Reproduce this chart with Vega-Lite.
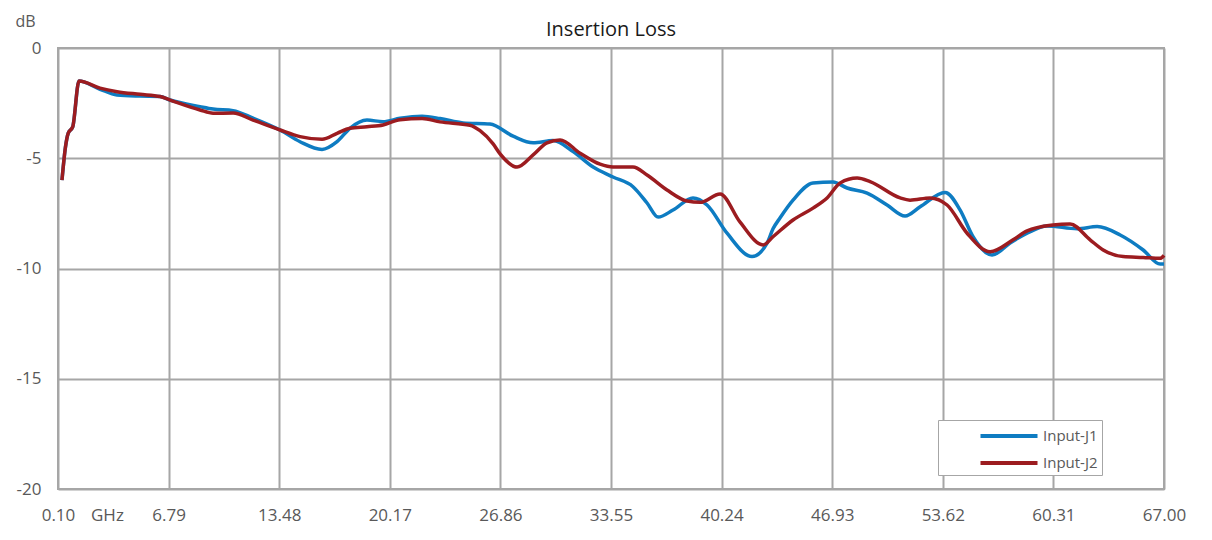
{
  "$schema": "https://vega.github.io/schema/vega-lite/v6.json",
  "width": 1106,
  "height": 441,
  "autosize": {"type": "none"},
  "padding": {"left": 58, "top": 48, "right": 48, "bottom": 51},
  "background": "white",
  "title": {"text": "Insertion Loss", "fontSize": 20, "font": "Open Sans", "fontWeight": "normal", "color": "#1a1a1a", "offset": 9, "dy": 36, "anchor": "middle", "frame": "group"},
  "config": {"view": {"stroke": "#a6a6a6", "strokeWidth": 2}, "font": "Open Sans"},
  "datasets": {
    "j1": [
      {"f": 0.34, "v": -5.99}, {"f": 0.55, "v": -4.5}, {"f": 0.72, "v": -3.86}, {"f": 0.99, "v": -3.58}, {"f": 1.37, "v": -1.5},
      {"f": 2.64, "v": -1.87}, {"f": 3.67, "v": -2.13}, {"f": 5.06, "v": -2.18}, {"f": 6.27, "v": -2.2}, {"f": 6.88, "v": -2.36},
      {"f": 8.69, "v": -2.66}, {"f": 9.48, "v": -2.77}, {"f": 10.69, "v": -2.84}, {"f": 11.9, "v": -3.18}, {"f": 13.53, "v": -3.72},
      {"f": 14.74, "v": -4.25}, {"f": 16.07, "v": -4.6}, {"f": 16.98, "v": -4.25}, {"f": 17.76, "v": -3.64}, {"f": 18.79, "v": -3.27},
      {"f": 19.76, "v": -3.34}, {"f": 20.79, "v": -3.19}, {"f": 22.12, "v": -3.1}, {"f": 23.21, "v": -3.2}, {"f": 24.6, "v": -3.4},
      {"f": 26.23, "v": -3.45}, {"f": 27.63, "v": -4.0}, {"f": 28.84, "v": -4.3}, {"f": 30.05, "v": -4.2}, {"f": 31.26, "v": -4.7},
      {"f": 32.47, "v": -5.4}, {"f": 33.67, "v": -5.85}, {"f": 34.88, "v": -6.29}, {"f": 35.73, "v": -7.03}, {"f": 36.4, "v": -7.67},
      {"f": 37.3, "v": -7.35}, {"f": 38.51, "v": -6.8}, {"f": 39.36, "v": -7.12}, {"f": 40.57, "v": -8.4}, {"f": 42.08, "v": -9.46},
      {"f": 42.99, "v": -8.85}, {"f": 43.35, "v": -8.2}, {"f": 43.78, "v": -7.7}, {"f": 44.56, "v": -6.9}, {"f": 45.77, "v": -6.12},
      {"f": 46.98, "v": -6.08}, {"f": 47.83, "v": -6.35}, {"f": 49.04, "v": -6.58}, {"f": 50.25, "v": -7.12}, {"f": 51.34, "v": -7.62},
      {"f": 52.25, "v": -7.2}, {"f": 53.76, "v": -6.55}, {"f": 54.67, "v": -7.35}, {"f": 55.45, "v": -8.56}, {"f": 56.6, "v": -9.39},
      {"f": 57.69, "v": -8.84}, {"f": 58.72, "v": -8.4}, {"f": 59.93, "v": -8.07}, {"f": 61.75, "v": -8.2}, {"f": 62.96, "v": -8.1},
      {"f": 64.35, "v": -8.48}, {"f": 65.74, "v": -9.16}, {"f": 66.77, "v": -9.8}, {"f": 67.0, "v": -9.8}
    ],
    "j2": [
      {"f": 0.34, "v": -5.99}, {"f": 0.55, "v": -4.5}, {"f": 0.72, "v": -3.86}, {"f": 0.99, "v": -3.58}, {"f": 1.37, "v": -1.5},
      {"f": 2.64, "v": -1.82}, {"f": 3.67, "v": -1.98}, {"f": 5.06, "v": -2.1}, {"f": 6.27, "v": -2.2}, {"f": 6.88, "v": -2.36},
      {"f": 8.69, "v": -2.81}, {"f": 9.48, "v": -2.96}, {"f": 10.69, "v": -2.95}, {"f": 11.9, "v": -3.27}, {"f": 13.53, "v": -3.72},
      {"f": 14.74, "v": -4.02}, {"f": 16.07, "v": -4.14}, {"f": 16.98, "v": -3.87}, {"f": 17.76, "v": -3.64}, {"f": 18.79, "v": -3.57},
      {"f": 19.76, "v": -3.49}, {"f": 20.79, "v": -3.25}, {"f": 22.12, "v": -3.2}, {"f": 23.21, "v": -3.35}, {"f": 25.02, "v": -3.5},
      {"f": 25.63, "v": -3.75}, {"f": 26.42, "v": -4.35}, {"f": 26.84, "v": -4.8}, {"f": 27.87, "v": -5.4}, {"f": 28.84, "v": -4.85},
      {"f": 29.68, "v": -4.3}, {"f": 30.47, "v": -4.17}, {"f": 31.68, "v": -4.77}, {"f": 32.89, "v": -5.27}, {"f": 33.67, "v": -5.4},
      {"f": 34.88, "v": -5.4}, {"f": 35.73, "v": -5.76}, {"f": 36.94, "v": -6.44}, {"f": 38.15, "v": -6.94}, {"f": 38.94, "v": -7.0},
      {"f": 40.15, "v": -6.62}, {"f": 41.36, "v": -7.9}, {"f": 42.75, "v": -8.93}, {"f": 43.35, "v": -8.56}, {"f": 44.56, "v": -7.8},
      {"f": 45.77, "v": -7.26}, {"f": 46.62, "v": -6.8}, {"f": 47.41, "v": -6.12}, {"f": 48.44, "v": -5.9}, {"f": 49.22, "v": -6.06},
      {"f": 51.04, "v": -6.8}, {"f": 51.64, "v": -6.9}, {"f": 52.85, "v": -6.8}, {"f": 53.88, "v": -7.12}, {"f": 55.09, "v": -8.4},
      {"f": 56.48, "v": -9.24}, {"f": 57.87, "v": -8.7}, {"f": 58.72, "v": -8.29}, {"f": 60.29, "v": -8.03}, {"f": 61.32, "v": -7.98},
      {"f": 62.53, "v": -8.7}, {"f": 63.32, "v": -9.16}, {"f": 64.53, "v": -9.46}, {"f": 65.74, "v": -9.5}, {"f": 66.77, "v": -9.54},
      {"f": 67.0, "v": -9.4}
    ]
  },
  "layer": [
    {
      "data": {"name": "j1"},
      "transform": [{"calculate": "'Input-J1'", "as": "s"}],
      "mark": {"type": "line", "interpolate": "monotone", "strokeWidth": 3.5}
    },
    {
      "data": {"name": "j2"},
      "transform": [{"calculate": "'Input-J2'", "as": "s"}],
      "mark": {"type": "line", "interpolate": "monotone", "strokeWidth": 3.5}
    }
  ],
  "encoding": {
    "x": {
      "field": "f", "type": "quantitative",
      "scale": {"domain": [0.1, 67], "nice": false, "zero": false},
      "axis": {
        "values": [0.1, 3.06, 6.79, 13.48, 20.17, 26.86, 33.55, 40.24, 46.93, 53.62, 60.31, 67],
        "labelExpr": "abs(datum.value-3.06)<0.01 ? 'GHz' : format(datum.value,'.2f')",
        "gridOpacity": {"condition": {"test": "abs(datum.value-3.06)<0.01", "value": 0}, "value": 1},
        "title": null, "domain": false, "ticks": false, "grid": true,
        "gridColor": "#a6a6a6", "gridWidth": 2,
        "labelFontSize": 17, "labelColor": "#595959", "labelPadding": 18, "labelFlush": false, "labelOverlap": false
      }
    },
    "y": {
      "field": "v", "type": "quantitative",
      "scale": {"domain": [-20, 0], "nice": false},
      "axis": {
        "values": [-20, -15, -10, -5, 0],
        "labelExpr": "'' + datum.value",
        "title": "dB", "titleAngle": 0, "titleX": -33, "titleY": -27, "titleAlign": "center", "titleBaseline": "middle",
        "titleFontSize": 16, "titleFontWeight": "normal", "titleColor": "#595959",
        "domain": false, "ticks": false, "grid": true, "gridColor": "#a6a6a6", "gridWidth": 2,
        "labelFontSize": 17, "labelColor": "#595959", "labelPadding": 17, "labelFlush": false
      }
    },
    "color": {
      "field": "s", "type": "nominal",
      "scale": {"domain": ["Input-J1", "Input-J2"], "range": ["#0e7cc2", "#9c1c20"]},
      "legend": {
        "title": null, "orient": "none", "legendX": 880, "legendY": 372,
        "fillColor": "white", "strokeColor": "#a6a6a6", "padding": 4,
        "symbolType": "M-2.85,0H2.85", "symbolSize": 400, "symbolStrokeWidth": 4, "symbolOffset": 55,
        "labelFontSize": 15, "labelColor": "#595959", "labelOffset": 22, "rowPadding": 7
      }
    }
  }
}
